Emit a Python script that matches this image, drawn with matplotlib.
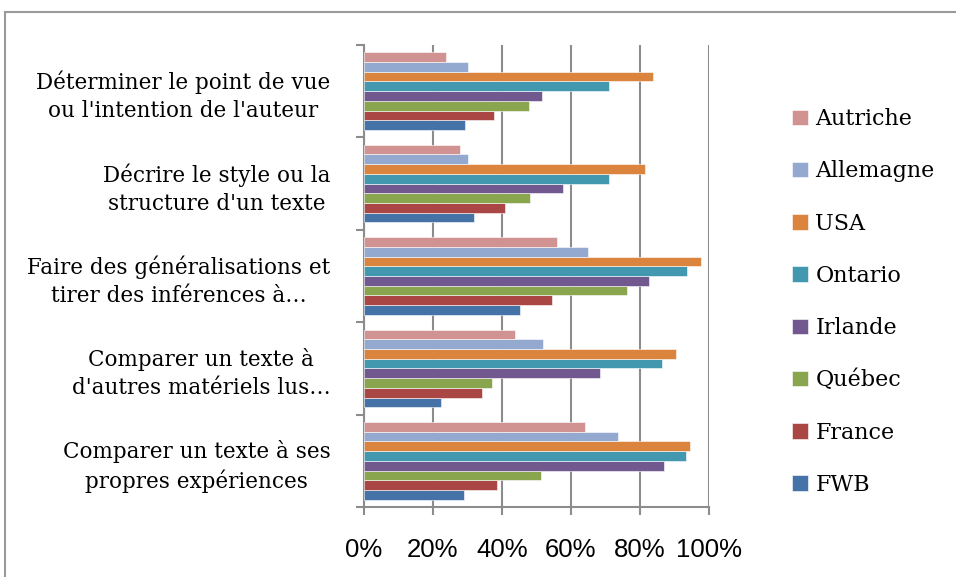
import matplotlib
matplotlib.use("Agg")
import matplotlib.pyplot as plt
from matplotlib.patches import Rectangle
import numpy as np

categories = [
    "Comparer un texte à ses\npropres expériences",
    "Comparer un texte à\nd'autres matériels lus…",
    "Faire des généralisations et\ntirer des inférences à…",
    "Décrire le style ou la\nstructure d'un texte",
    "Déterminer le point de vue\nou l'intention de l'auteur",
]
series = ["FWB", "France", "Québec", "Irlande", "Ontario", "USA", "Allemagne", "Autriche"]
colors = ["#4572A7", "#AA4643", "#89A54E", "#71588F", "#4198AF", "#DB843D", "#93A9CF", "#D19392"]

# values per series, same order as categories (bottom to top)
fwb = [0.291, 0.224, 0.451, 0.319, 0.293]
france = [0.385, 0.342, 0.545, 0.408, 0.377]
quebec = [0.513, 0.371, 0.762, 0.480, 0.478]
irlande = [0.869, 0.684, 0.827, 0.577, 0.517]
ontario = [0.934, 0.864, 0.937, 0.710, 0.710]
usa = [0.946, 0.905, 0.976, 0.815, 0.838]
allemagne = [0.737, 0.519, 0.649, 0.300, 0.301]
autriche = [0.640, 0.438, 0.560, 0.279, 0.239]
values = [fwb, france, quebec, irlande, ontario, usa, allemagne, autriche]

fig = plt.figure(figsize=(9.56, 5.77), dpi=100)
ax = fig.add_axes([364 / 956, 1 - 507 / 577, 345 / 956, 462 / 577])

y = np.arange(len(categories))
h = 0.84 / len(series)
handles = []
for i, (name, vals, col) in enumerate(zip(series, values, colors)):
    b = ax.barh(y + (i - 3.5) * h, vals, height=h, color=col, label=name,
                edgecolor="white", linewidth=0.4, zorder=3)
    handles.append(b)

ax.set_xlim(0, 1)
ax.set_ylim(-0.5, len(categories) - 0.5)
ax.set_xticks(np.linspace(0, 1, 6))
ax.set_xticklabels(["0%", "20%", "40%", "60%", "80%", "100%"],
                   fontfamily="Liberation Sans", fontsize=18.5)
ax.grid(axis="x", color="#8c8c8c", linewidth=1.5, zorder=0)

ax.set_yticks(np.arange(-0.5, len(categories), 1.0))
ax.set_yticklabels([])
ax.set_yticks(y, minor=True)
ax.set_yticklabels(categories, minor=True, fontfamily="DejaVu Serif",
                   fontsize=15.5, multialignment="center", linespacing=1.35)
ax.tick_params(axis="y", which="minor", length=0, pad=24)
ax.tick_params(axis="y", which="major", length=6, color="#8c8c8c", width=1.5)
ax.tick_params(axis="x", length=6, color="#8c8c8c", width=1.5, pad=16)

for s in ["top", "right"]:
    ax.spines[s].set_visible(False)
for s in ["left", "bottom"]:
    ax.spines[s].set_color("#8c8c8c")
    ax.spines[s].set_linewidth(1.5)

fig.legend(handles[::-1], series[::-1], loc="center left",
           bbox_to_anchor=(772 / 956, 1 - 302 / 577), frameon=False,
           prop={"family": "DejaVu Serif", "size": 16},
           handlelength=0.7, handleheight=0.7, handletextpad=0.35,
           labelspacing=1.36)

fig.patches.append(Rectangle((5 / 956, -0.05), 1.1, 1 - 12 / 577 + 0.05,
                             transform=fig.transFigure, fill=False,
                             edgecolor="#999999", linewidth=1.5))

fig.savefig("out.png", dpi=100)
